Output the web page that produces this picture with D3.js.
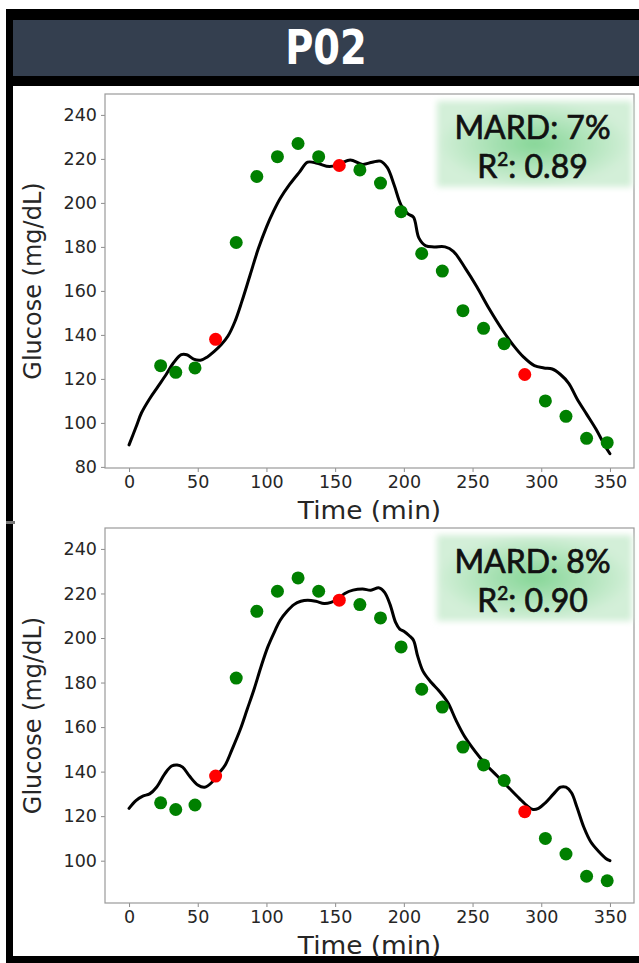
<!DOCTYPE html>
<html lang="en">
<head>
<meta charset="UTF-8">
<title>P02 glucose fits</title>
<style>
    body { margin: 0; background: #fff; }
    svg { display: block; }
    .tick text { font-family: 'DejaVu Sans', sans-serif; font-size: 17.5px; fill: #262626; }
    .tick line { stroke: #8c8c8c; }
    .axis-title { font-family: 'DejaVu Sans', sans-serif; font-size: 24px; fill: #262626; }
    .badge-text { font-family: 'Lato', 'Open Sans', sans-serif; font-size: 32px; fill: #111; stroke: #111; stroke-width: 0.7px; text-anchor: middle; }
</style>
</head>
<body>
<svg id="chart" width="639" height="963"></svg>
<script src="https://d3js.org/d3.v7.min.js"></script>
<script>
// reference samples (same in both panels)
const dotTimes  = [23, 34, 48, 63, 78, 93, 108, 123, 138, 153, 168, 183, 198, 213, 228, 243, 258, 273, 288, 303, 318, 333, 348];
const dotValues = [126, 123, 125, 138, 182, 212, 221, 227, 221, 217, 215, 209, 196, 177, 169, 151, 143, 136, 122, 110, 103, 93, 91];
const dotIsRef  = [0, 0, 0, 1, 0, 0, 0, 0, 0, 1, 0, 0, 0, 0, 0, 0, 0, 0, 1, 0, 0, 0, 0];

// model curve, top panel
const topFitTimes  = [0, 5, 9, 15, 21, 27, 32, 38, 42, 47, 52, 57, 62, 67, 72, 77, 82, 88, 94, 100, 105, 110, 117, 124, 130, 137, 146, 154, 161, 170, 177, 183, 188, 193, 198, 203, 207, 211, 216, 222, 230, 236, 245, 253, 262, 272, 280, 287, 295, 302, 308, 314, 320, 326, 333, 340, 346, 350];
const topFitValues = [90, 98, 104.5, 111, 116.5, 122, 127, 131, 131, 129, 128.5, 130, 132.5, 135.5, 139.5, 146, 155, 167, 179, 189, 196, 202, 208.5, 214, 218.5, 218, 216.5, 218, 219.5, 217.5, 218.5, 219, 216, 208, 199, 195, 193.5, 184, 180.5, 180, 180, 178, 170, 162, 152, 142, 135, 130, 126, 125, 124.5, 122, 118, 111, 104, 97, 90, 86];

// model curve, bottom panel
const bottomFitTimes  = [0, 5, 10, 15, 20, 26, 31, 35, 39, 44, 50, 55, 60, 65, 70, 75, 81, 86, 91, 96, 101, 106, 110, 115, 120, 125, 130, 136, 142, 147, 152, 157, 163, 170, 176, 182, 186, 190, 194, 197, 200, 204, 207, 210, 214, 220, 226, 232, 238, 244, 252, 260, 268, 276, 284, 290, 294, 298, 303, 309, 314, 318, 322, 326, 331, 336, 342, 347, 350];
const bottomFitValues = [123.5, 127, 129, 130, 133, 139, 142.5, 143, 142, 138, 134, 133, 135, 139, 143, 150, 159, 168, 177, 187, 196, 203, 208, 212, 215, 216.5, 217, 216.5, 215.5, 216, 217.5, 220, 221.5, 222, 221.5, 222.5, 220.5, 215, 207, 204, 203, 201, 199, 192, 185, 180, 176, 171, 163, 156, 149, 143, 138, 133, 128, 124.5, 123, 123.5, 126, 130, 133, 133, 130.5, 124, 115, 108.5, 104, 101, 100];

const xTicks = [0, 50, 100, 150, 200, 250, 300, 350];
const yTicksTop = [80, 100, 120, 140, 160, 180, 200, 220, 240];
const yTicksBottom = [100, 120, 140, 160, 180, 200, 220, 240];
const mardLabels = ['MARD: 7%', 'MARD: 8%'];
const r2Values = ['0.89', '0.90'];
const title = 'P02';

const svg = d3.select('#chart');

// frame and header
svg.append('rect').attr('width', 639).attr('height', 963).attr('fill', '#fff');
svg.append('rect').attr('x', 6).attr('y', 9).attr('width', 633).attr('height', 77).attr('fill', '#000');
svg.append('rect').attr('x', 13).attr('y', 20).attr('width', 626).attr('height', 56).attr('fill', '#343f4f');
svg.append('rect').attr('x', 6).attr('y', 9).attr('width', 7).attr('height', 950).attr('fill', '#000');
svg.append('rect').attr('x', 6).attr('y', 956).attr('width', 633).attr('height', 7).attr('fill', '#000');
svg.append('rect').attr('x', 6).attr('y', 521).attr('width', 9).attr('height', 3).attr('fill', '#777');

svg.append('text')
    .attr('transform', 'translate(326,64) scale(0.8,1)')
    .attr('text-anchor', 'middle')
    .style('font-family', "'DejaVu Sans', sans-serif")
    .style('font-weight', 'bold')
    .style('font-size', '48px')
    .style('fill', '#fff')
    .text(title);

const defs = svg.append('defs');
const grad = defs.append('radialGradient').attr('id', 'badgeGrad');
grad.append('stop').attr('offset', '0%').attr('stop-color', '#86d697');
grad.append('stop').attr('offset', '100%').attr('stop-color', '#d3efd8');
defs.append('filter').attr('id', 'soft')
    .attr('x', '-10%').attr('y', '-10%').attr('width', '120%').attr('height', '120%')
    .append('feGaussianBlur').attr('stdDeviation', 3);

const panels = [
    { top: 94, bottom: 468, yDomain: [79.5, 249.5], yTicks: yTicksTop,
      fitT: topFitTimes, fitV: topFitValues, mard: mardLabels[0], r2: r2Values[0] },
    { top: 528, bottom: 903, yDomain: [81, 249.4], yTicks: yTicksBottom,
      fitT: bottomFitTimes, fitV: bottomFitValues, mard: mardLabels[1], r2: r2Values[1] }
];

const left = 105, right = 634;
const x = d3.scaleLinear().domain([-17.5, 367.5]).range([left, right]);

panels.forEach(p => {
    const y = d3.scaleLinear().domain(p.yDomain).range([p.bottom, p.top]);
    const g = svg.append('g');

    g.append('g')
        .attr('transform', `translate(0,${p.bottom})`)
        .call(d3.axisBottom(x).tickValues(xTicks).tickSize(4).tickPadding(4))
        .call(a => a.select('.domain').remove());

    g.append('g')
        .attr('transform', `translate(${left},0)`)
        .call(d3.axisLeft(y).tickValues(p.yTicks).tickSize(4).tickPadding(4))
        .call(a => a.select('.domain').remove());

    g.append('rect')
        .attr('x', left).attr('y', p.top)
        .attr('width', right - left).attr('height', p.bottom - p.top)
        .attr('fill', 'none').attr('stroke', '#9a9a9a').attr('stroke-width', 1.2);

    // badge
    const bx = 437, by = p.top + 7, bw = 195, bh = 86;
    g.append('rect')
        .attr('x', bx).attr('y', by).attr('width', bw).attr('height', bh)
        .attr('fill', 'url(#badgeGrad)').attr('filter', 'url(#soft)');
    g.append('text').attr('class', 'badge-text')
        .attr('x', bx + bw / 2 - 2).attr('y', by + 38)
        .text(p.mard);
    const r2 = g.append('text').attr('class', 'badge-text')
        .attr('x', bx + bw / 2 - 2).attr('y', by + 77);
    r2.append('tspan').text('R');
    r2.append('tspan').attr('dy', -12).style('font-size', '19px').text('2');
    r2.append('tspan').attr('dy', 12).text(': ' + p.r2);

    // model curve
    const fit = p.fitT.map((t, i) => [t, p.fitV[i]]);
    g.append('path')
        .datum(fit)
        .attr('fill', 'none')
        .attr('stroke', '#000')
        .attr('stroke-width', 3)
        .attr('stroke-linejoin', 'round')
        .attr('stroke-linecap', 'round')
        .attr('d', d3.line().x(d => x(d[0])).y(d => y(d[1])).curve(d3.curveCatmullRom));

    // samples
    g.selectAll('.dot')
        .data(dotTimes.map((t, i) => ({ t, v: dotValues[i], ref: dotIsRef[i] })))
        .enter()
        .append('circle')
        .attr('cx', d => x(d.t))
        .attr('cy', d => y(d.v))
        .attr('r', 6.5)
        .attr('fill', d => d.ref ? '#ff0000' : '#008000');

    g.append('text').attr('class', 'axis-title')
        .attr('transform', `translate(${(left + right) / 2},${p.bottom + 51}) scale(1.1,1)`)
        .attr('text-anchor', 'middle')
        .text('Time (min)');

    g.append('text').attr('class', 'axis-title')
        .attr('transform', `translate(41,${(p.top + p.bottom) / 2}) rotate(-90)`)
        .attr('text-anchor', 'middle')
        .text('Glucose (mg/dL)');
});
</script>
</body>
</html>
